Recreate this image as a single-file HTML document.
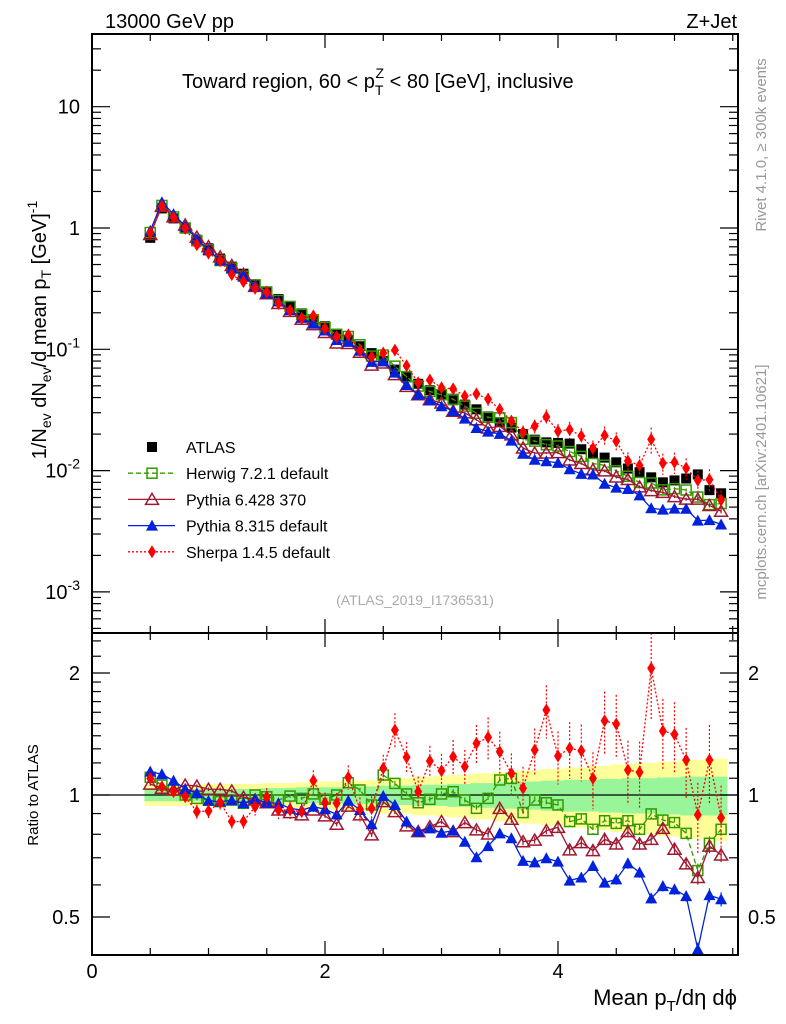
<!DOCTYPE html>
<html><head><meta charset="utf-8"><style>
html,body{margin:0;padding:0;background:#fff;}
svg{display:block;font-family:"Liberation Sans",Arial,sans-serif;}
</style></head><body>
<svg id="chart" xmlns="http://www.w3.org/2000/svg" width="786" height="1024" viewBox="0 0 786 1024">
<rect x="0" y="0" width="786" height="1024" fill="#fff"/>
<g id="ratioBand"></g>
<g id="marks"></g>
<g id="axes"></g>
<text x="105" y="28" font-size="20">13000 GeV pp</text>
<text x="737" y="28" font-size="20" text-anchor="end">Z+Jet</text>
<text x="182" y="88" font-size="20">Toward region, 60 &lt; p<tspan font-size="14" dy="7">T</tspan><tspan font-size="14" dx="-8" dy="-17">Z</tspan><tspan dy="10"> &lt; 80 [GeV], inclusive</tspan></text>
<text transform="translate(46,330) rotate(-90)" font-size="20" text-anchor="middle">1/N<tspan font-size="14" dy="5">ev</tspan><tspan dy="-5"> dN</tspan><tspan font-size="14" dy="5">ev</tspan><tspan dy="-5">/d mean p</tspan><tspan font-size="14" dy="5">T</tspan><tspan dy="-5"> [GeV]</tspan><tspan font-size="14" dy="-9">-1</tspan></text>
<text transform="translate(766,145) rotate(-90)" font-size="15" fill="#999" text-anchor="middle">Rivet 4.1.0, ≥ 300k events</text>
<text transform="translate(766,482) rotate(-90)" font-size="15" fill="#999" text-anchor="middle">mcplots.cern.ch [arXiv:2401.10621]</text>
<text x="415" y="605" font-size="14" fill="#aaa" text-anchor="middle">(ATLAS_2019_I1736531)</text>
<text transform="translate(38,795) rotate(-90)" font-size="15" text-anchor="middle">Ratio to ATLAS</text>
<text x="737" y="1005" font-size="22" text-anchor="end">Mean p<tspan font-size="15" dy="6">T</tspan><tspan dy="-6">/dη dϕ</tspan></text>
<g id="legend"></g>
</svg>
<script>
const xs = [];
for (let i = 0; i < 50; i++) xs.push(+(0.5 + 0.1 * i).toFixed(2));
const atlasVals = [0.83,1.45,1.2,1.0,0.8,0.68,0.56,0.48,0.42,0.34,0.30,0.26,0.227,0.198,0.174,0.155,0.133,0.119,0.106,0.093,0.080,0.068,0.059,0.052,0.046,0.042,0.038,0.035,0.032,0.028,0.025,0.0226,0.020,0.018,0.0171,0.0169,0.0167,0.015,0.0139,0.0128,0.0117,0.0104,0.0097,0.0088,0.0080,0.0083,0.0086,0.0093,0.0069,0.0065];
const herwigRatio = [1.106,1.058,1.029,1.0,0.981,0.972,0.963,0.972,0.954,1.0,0.99,0.972,0.994,0.981,1.006,0.976,1.0,1.072,1.029,0.945,1.12,1.068,1.006,0.957,0.976,1.006,1.019,0.972,0.927,0.981,1.089,1.099,0.905,0.972,0.957,0.945,0.86,0.873,0.823,0.864,0.851,0.864,0.823,0.898,0.867,0.855,0.804,0.651,0.76,0.823];
const py6Ratio = [1.064,1.039,1.029,1.058,1.052,1.033,1.033,1.023,0.987,0.972,0.957,0.918,0.905,0.893,0.918,0.888,0.847,0.939,0.893,0.797,0.963,0.91,0.839,0.812,0.835,0.86,0.812,0.855,0.82,0.801,0.927,0.871,0.767,0.774,0.817,0.832,0.732,0.763,0.729,0.777,0.757,0.812,0.757,0.777,0.827,0.735,0.676,0.626,0.748,0.711];
const py8Ratio = [1.142,1.125,1.085,1.035,1.01,0.967,0.963,0.97,0.954,0.976,0.957,0.954,0.927,0.918,0.936,0.922,0.896,0.968,0.918,0.847,0.994,0.945,0.86,0.812,0.827,0.807,0.817,0.767,0.702,0.748,0.804,0.782,0.688,0.682,0.698,0.685,0.615,0.626,0.668,0.608,0.619,0.678,0.644,0.556,0.596,0.585,0.563,0.416,0.566,0.553];
const sherpaRatio = [1.099,1.048,1.019,0.99,0.91,0.913,0.959,0.86,0.86,0.936,0.99,0.918,0.918,0.91,1.085,0.957,0.954,1.106,0.922,0.927,1.164,1.447,1.239,1.019,1.213,1.148,1.243,1.175,1.341,1.388,1.279,1.131,1.039,1.291,1.621,1.248,1.304,1.286,1.099,1.525,1.497,1.153,1.138,2.054,1.439,1.411,1.22,0.893,1.22,0.879];
const sherpaErr = [0.03,0.03,0.03,0.03,0.04,0.04,0.04,0.04,0.04,0.05,0.05,0.05,0.05,0.05,0.06,0.06,0.06,0.07,0.07,0.07,0.08,0.1,0.09,0.09,0.09,0.1,0.1,0.1,0.11,0.12,0.12,0.12,0.13,0.13,0.15,0.15,0.16,0.16,0.16,0.18,0.18,0.18,0.19,0.25,0.2,0.2,0.2,0.2,0.22,0.2];
const mcErr = [0.01,0.01,0.01,0.01,0.01,0.01,0.01,0.01,0.01,0.01,0.01,0.01,0.01,0.01,0.01,0.012,0.012,0.012,0.012,0.012,0.015,0.015,0.015,0.015,0.015,0.015,0.015,0.015,0.02,0.02,0.02,0.02,0.02,0.02,0.02,0.025,0.025,0.025,0.025,0.025,0.03,0.03,0.03,0.03,0.03,0.03,0.03,0.04,0.04,0.04];
const bandInner = [0.035,0.035,0.035,0.035,0.035,0.035,0.035,0.035,0.035,0.035,0.04,0.04,0.04,0.045,0.045,0.045,0.045,0.05,0.05,0.05,0.055,0.055,0.055,0.06,0.06,0.06,0.065,0.065,0.07,0.07,0.075,0.075,0.08,0.08,0.085,0.085,0.09,0.09,0.09,0.095,0.095,0.1,0.1,0.1,0.105,0.105,0.11,0.11,0.11,0.11];
const bandOuter = [0.06,0.06,0.06,0.06,0.06,0.065,0.065,0.065,0.065,0.065,0.07,0.07,0.07,0.075,0.075,0.08,0.08,0.085,0.085,0.09,0.1,0.1,0.1,0.11,0.11,0.115,0.12,0.12,0.13,0.13,0.14,0.14,0.15,0.15,0.16,0.16,0.17,0.17,0.18,0.18,0.19,0.19,0.2,0.2,0.21,0.21,0.22,0.22,0.23,0.23];
const xTickLabels = ["0","2","4"];
const yTickLabels = ["10","1","10^-1","10^-2","10^-3"];
const ratioTickLabels = ["0.5","1","2"];

const NS = "http://www.w3.org/2000/svg";
const X0 = 92, X1 = 738, MT = 34, MB = 633, RB = 955;
const sx = v => X0 + v * 116.5;
const sy = v => 228 - Math.log10(v) * 121.3;
const ry = v => 795 - Math.log2(v) * 122;
function mk(tag, attrs, parent) {
  const e = document.createElementNS(NS, tag);
  for (const k in attrs) e.setAttribute(k, attrs[k]);
  parent.appendChild(e);
  return e;
}
const axes = document.getElementById('axes');
const marks = document.getElementById('marks');
const band = document.getElementById('ratioBand');
const legend = document.getElementById('legend');

const defs = mk('defs', {}, document.getElementById('chart'));
const c1 = mk('clipPath', {id: 'clipMain'}, defs);
mk('rect', {x: X0, y: MT, width: X1 - X0, height: MB - MT}, c1);
const c2 = mk('clipPath', {id: 'clipRatio'}, defs);
mk('rect', {x: X0, y: MB, width: X1 - X0, height: RB - MB}, c2);
const gMain = mk('g', {'clip-path': 'url(#clipMain)'}, marks);


const gRatio = mk('g', {'clip-path': 'url(#clipRatio)'}, marks);



for (let i = 0; i < xs.length; i++) {
  const xa = sx(xs[i] - 0.05), xb = sx(xs[i] + 0.05);
  const o = mk('rect', {x: xa, y: ry(1 + bandOuter[i]), width: xb - xa + 0.5, height: ry(1 - bandOuter[i]) - ry(1 + bandOuter[i]), fill: '#ffff99'}, band);
  
  
}
for (let i = 0; i < xs.length; i++) {
  const xa = sx(xs[i] - 0.05), xb = sx(xs[i] + 0.05);
  const n = mk('rect', {x: xa, y: ry(1 + bandInner[i]), width: xb - xa + 0.5, height: ry(1 - bandInner[i]) - ry(1 + bandInner[i]), fill: '#99f599'}, band);
  
  
}
const one = mk('line', {x1: X0, x2: X1, y1: ry(1), y2: ry(1), stroke: '#000', 'stroke-width': 1.3}, band);



function marker(type, cx, cy, col, parent, name) {
  let e;
  if (type === 'sqf') e = mk('rect', {x: cx - 5, y: cy - 5, width: 10, height: 10, fill: '#000'}, parent);
  else if (type === 'sqo') e = mk('rect', {x: cx - 5, y: cy - 5, width: 10, height: 10, fill: 'none', stroke: col, 'stroke-width': 1.5}, parent);
  else if (type === 'trio') e = mk('path', {d: `M${cx},${cy-6}L${cx+6.5},${cy+5}L${cx-6.5},${cy+5}Z`, fill: 'none', stroke: col, 'stroke-width': 1.5}, parent);
  else if (type === 'trif') e = mk('path', {d: `M${cx},${cy-6}L${cx+6},${cy+5}L${cx-6},${cy+5}Z`, fill: col}, parent);
  else e = mk('path', {d: `M${cx},${cy-6.5}L${cx+4},${cy}L${cx},${cy+6.5}L${cx-4},${cy}Z`, fill: col}, parent);
  
  
  return e;
}
const series = [
  {name: 'herwig', ratio: herwigRatio, col: '#339900', mt: 'sqo', dash: '5,3', err: mcErr},
  {name: 'pythia6', ratio: py6Ratio, col: '#a01830', mt: 'trio', dash: '', err: mcErr},
  {name: 'pythia8', ratio: py8Ratio, col: '#0022dd', mt: 'trif', dash: '', err: mcErr},
  {name: 'sherpa', ratio: sherpaRatio, col: '#ff0000', mt: 'dia', dash: '2,2', err: sherpaErr}
];
for (let i = 0; i < xs.length; i++) marker('sqf', sx(xs[i]), sy(atlasVals[i]), '#000', gMain, 'atlas-point');
for (const s of series) {
  for (const [g, fy, main] of [[gMain, (i) => sy(atlasVals[i] * s.ratio[i]), true], [gRatio, (i) => ry(s.ratio[i]), false]]) {
    let d = '';
    for (let i = 0; i < xs.length; i++) d += (i ? 'L' : 'M') + sx(xs[i]) + ',' + fy(i);
    const p = mk('path', {d, fill: 'none', stroke: s.col, 'stroke-width': 1.3, 'stroke-dasharray': s.dash}, g);
    
    
    for (let i = 0; i < xs.length; i++) {
      const v = main ? atlasVals[i] * s.ratio[i] : s.ratio[i];
      const f = main ? sy : ry;
      const eb = mk('line', {x1: sx(xs[i]), x2: sx(xs[i]), y1: f(v * (1 + s.err[i])), y2: f(v * (1 - s.err[i])), stroke: s.col, 'stroke-width': 1.2, 'stroke-dasharray': s.dash}, g);
      
      
      marker(s.mt, sx(xs[i]), f(v), s.col, g, s.name + '-point');
    }
  }
}

for (const [y0, y1, nm] of [[MT, MB, 'main-frame'], [MB, RB, 'ratio-frame']]) {
  const r = mk('rect', {x: X0, y: y0, width: X1 - X0, height: y1 - y0, fill: 'none', stroke: '#000', 'stroke-width': 2}, axes);
  
  
}
function tick(x1, y1, x2, y2, name) {
  const t = mk('line', {x1, y1, x2, y2, stroke: '#000', 'stroke-width': 1.2}, axes);
  
  
}
function label(x, y, txt, anchor, size, name) {
  const t = mk('text', {x, y, 'text-anchor': anchor, 'font-size': size}, axes);
  
  
  const m = txt.match(/^(\d+)\^(-?\d+)$/);
  if (m) {
    t.textContent = m[1];
    const ts = mk('tspan', {'font-size': size * 0.7, dy: -9}, t);
    ts.textContent = m[2];
  } else t.textContent = txt;
}
for (let v = 0; v <= 5.5; v += 0.5) {
  const major = Math.abs(v % 2) < 1e-6;
  const L = major ? 14 : 7;
  const x = sx(v);
  for (const [yb, yt] of [[MB, MT], [RB, MB]]) {
    tick(x, yb, x, yb - L, 'x-tick');
    tick(x, yt, x, yt + L, 'x-tick');
  }
}
xTickLabels.forEach((l, k) => label(sx(+l), 978, l, 'middle', 20, 'x-tick-label'));
for (let d = -4; d <= 1; d++) {
  for (let m = 1; m <= 9; m++) {
    const v = m * Math.pow(10, d);
    const y = sy(v);
    if (y < MT || y > MB) continue;
    const L = m === 1 ? 18 : 9;
    tick(X0, y, X0 + L, y, 'y-tick');
    tick(X1, y, X1 - L, y, 'y-tick');
  }
}
yTickLabels.forEach((l, k) => {
  const v = Math.pow(10, 1 - k);
  label(80, sy(v) + 7, l, 'end', 20, 'y-tick-label');
});
const rt = [0.5,0.6,0.7,0.8,0.9,1,1.1,1.2,1.3,1.4,1.5,1.6,1.7,1.8,1.9,2,2.2,2.4];
for (const v of rt) {
  const major = (v === 0.5 || v === 1 || v === 2);
  const L = major ? 18 : 9;
  tick(X0, ry(v), X0 + L, ry(v), 'ratio-y-tick');
  tick(X1, ry(v), X1 - L, ry(v), 'ratio-y-tick');
}
ratioTickLabels.forEach(l => {
  label(80, ry(+l) + 7, l, 'end', 20, 'ratio-y-tick-label');
  label(748, ry(+l) + 7, l, 'start', 20, 'ratio-y-tick-label-right');
});

const leg = [
  {t: 'ATLAS', mt: 'sqf', col: '#000', dash: null},
  {t: 'Herwig 7.2.1 default', mt: 'sqo', col: '#339900', dash: '5,3'},
  {t: 'Pythia 6.428 370', mt: 'trio', col: '#a01830', dash: ''},
  {t: 'Pythia 8.315 default', mt: 'trif', col: '#0022dd', dash: ''},
  {t: 'Sherpa 1.4.5 default', mt: 'dia', col: '#ff0000', dash: '2,2'}
];
leg.forEach((e, k) => {
  const y = 447 + k * 26.2;
  const g = mk('g', {}, legend);
  
  
  if (e.dash !== null) {
    const l = mk('line', {x1: 128, x2: 175, y1: y, y2: y, stroke: e.col, 'stroke-width': 1.3, 'stroke-dasharray': e.dash}, g);
    
    
  }
  marker(e.mt, 152, y, e.col, g, 'legend-marker');
  const t = mk('text', {x: 186, y: y + 6, 'font-size': 16}, g);
  
  
  t.textContent = e.t;
});
</script>
</body></html>
